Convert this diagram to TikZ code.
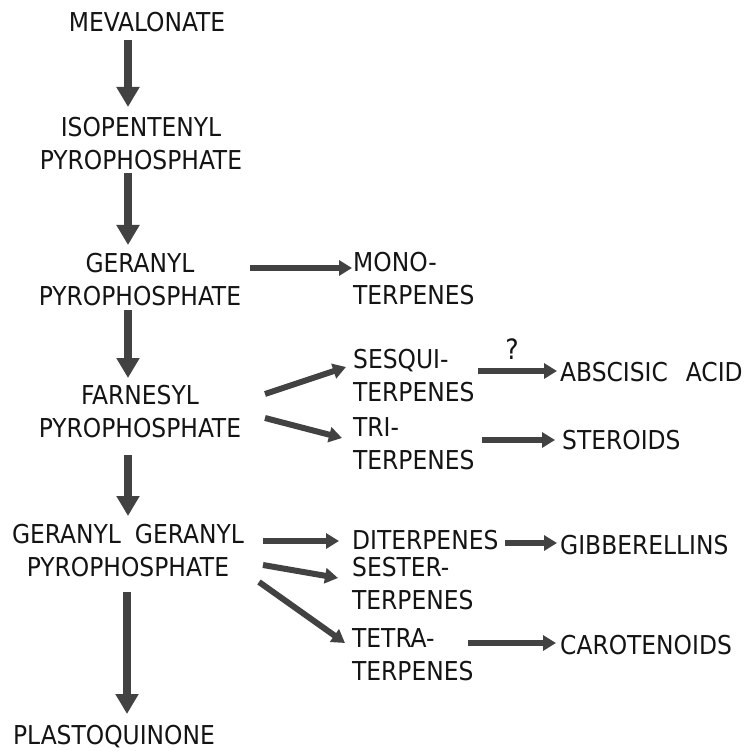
\documentclass[tikz,border=0pt]{standalone}
\usepackage{fontspec}
\setmainfont{DejaVu Sans Condensed}
\usetikzlibrary{arrows.meta}
\definecolor{ink}{HTML}{141414}
\definecolor{arr}{HTML}{424242}
\begin{document}
\begin{tikzpicture}[x=1pt,y=-1pt,
  lbl/.style={inner sep=0pt,text=ink,font=\fontsize{26}{33}\selectfont},
  lc/.style={lbl,align=center},
  rc/.style={lbl,align=left,anchor=west},
  varrow/.style={draw=arr,line width=8pt,-{Triangle[width=22pt,length=20pt]}},
  harrow/.style={draw=arr,line width=6pt,-{Triangle[width=15pt,length=13pt]}}]
\useasboundingbox[fill=white] (0,0) rectangle (752,751);
% left column
\node[lc] (mev) at (147,22) {MEVALONATE};
\node[lc] (ipp) at (141,144) {ISOPENTENYL\\PYROPHOSPHATE};
\node[lc] (gpp) at (140,280) {GERANYL\\PYROPHOSPHATE};
\node[lc] (fpp) at (140,412) {FARNESYL\\PYROPHOSPHATE};
\node[lc] (ggpp) at (128,551) {GERANYL\hspace{14pt}GERANYL\\PYROPHOSPHATE};
\node[lc] (pq) at (114,737) {PLASTOQUINONE};
% right column
\node[rc] (mono) at (353,279) {MONO-\\TERPENES};
\node[rc] (sesqui) at (353,376) {SESQUI-\\TERPENES};
\node[rc] (tri) at (353,444) {TRI-\\TERPENES};
\node[rc] (di) at (352,540) {DITERPENES};
\node[rc] (sester) at (352,584) {SESTER-\\TERPENES};
\node[rc] (tetra) at (352,655) {TETRA-\\TERPENES};
\node[rc] (aba) at (560,372) {ABSCISIC\hspace{18pt}ACID};
\node[rc] (ster) at (562,440) {STEROIDS};
\node[rc] (gib) at (560,545) {GIBBERELLINS};
\node[rc] (car) at (560,645) {CAROTENOIDS};
\node[lbl,font=\fontsize{28}{33}\selectfont] (q) at (512,349) {?};
% vertical arrows
\draw[varrow] ([shift={(-19,18)}]mev.center) -- ([shift={(-13,-37)}]ipp.center);
\draw[varrow] ([shift={(-13,29)}]ipp.center) -- ([shift={(-12,-35)}]gpp.center);
\draw[varrow] ([shift={(-12,30)}]gpp.center) -- ([shift={(-12,-34)}]fpp.center);
\draw[varrow] ([shift={(-12,43)}]fpp.center) -- ([shift={(0,-35)}]ggpp.center);
\draw[varrow] ([shift={(-1,41)}]ggpp.center) -- ([shift={(13,-23)}]pq.center);
% horizontal arrows
\draw[harrow] ([shift={(110,-12)}]gpp.center) -- ([shift={(-1,-11)}]mono.west);
\draw[harrow] ([shift={(125,-18)}]fpp.center) -- ([shift={(-7,-9)}]sesqui.west);
\draw[harrow] ([shift={(125,6)}]fpp.center) -- ([shift={(-11,-6)}]tri.west);
\draw[harrow] ([shift={(125,-5)}]sesqui.west) -- ([shift={(-3,-1)}]aba.west);
\draw[harrow] ([shift={(129,-4)}]tri.west) -- ([shift={(-7,0)}]ster.west);
\draw[harrow] ([shift={(135,-10)}]ggpp.center) -- ([shift={(-13,1)}]di.west);
\draw[harrow] ([shift={(135,14)}]ggpp.center) -- ([shift={(-14,-6)}]sester.west);
\draw[harrow] ([shift={(131,31)}]ggpp.center) -- ([shift={(-7,-12)}]tetra.west);
\draw[harrow] ([shift={(153,3)}]di.west) -- ([shift={(-3,-2)}]gib.west);
\draw[harrow] ([shift={(116,-12)}]tetra.west) -- ([shift={(-4,-2)}]car.west);
\end{tikzpicture}
\end{document}
